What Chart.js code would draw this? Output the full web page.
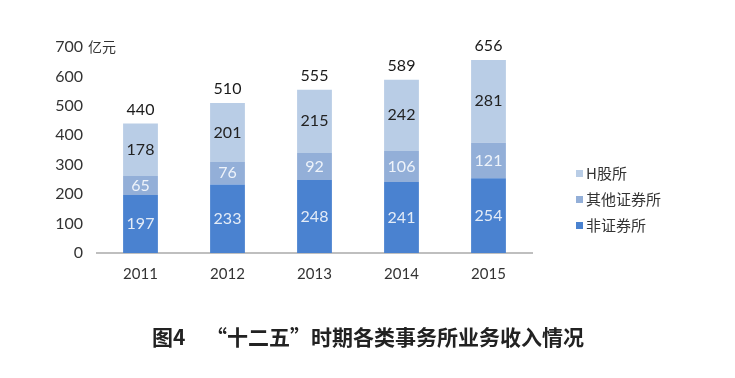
<!DOCTYPE html>
<html><head><meta charset="utf-8">
<script src="https://cdn.jsdelivr.net/npm/chart.js@4"></script>
<style>html,body{margin:0;padding:0;background:#fff}canvas{display:block}</style>
</head><body>
<canvas id="c" width="735" height="378"></canvas>
<script>
const categories = ['2011','2012','2013','2014','2015'];
const nonSecurities = [197,233,248,241,254];
const otherSecurities = [65,76,92,106,121];
const hShare = [178,201,215,242,281];
const totals = [440,510,555,589,656];
const seriesNames = ['非证券所','其他证券所','H股所'];
const yTicks = [0,100,200,300,400,500,600,700];
const unitLabel = '亿元';
const titleText = '“十二五”时期各类事务所业务收入情况';
const figLabel = '图4';

const colors = ['#4a82d0','#93afd8','#b9cde6'];
const labelColors = ['#e4ecf7','#eef3fa','#222222'];
const numFont = 'Lato, "Noto Sans", sans-serif';
const cjkFont = '"Noto Sans CJK SC", sans-serif';

const labelsPlugin = {
  id: 'labels',
  afterDatasetsDraw(chart) {
    const ctx = chart.ctx;
    ctx.save();
    ctx.textAlign = 'center';
    ctx.textBaseline = 'middle';
    ctx.font = '16px ' + numFont;
    chart.data.datasets.forEach((ds, di) => {
      const meta = chart.getDatasetMeta(di);
      meta.data.forEach((bar, i) => {
        ctx.fillStyle = labelColors[di];
        ctx.fillText(String(ds.data[i]), bar.x, (bar.y + bar.base) / 2);
      });
    });
    const top = chart.getDatasetMeta(2);
    top.data.forEach((bar, i) => {
      ctx.fillStyle = '#1a1a1a';
      ctx.fillText(String(totals[i]), bar.x, chart.scales.y.getPixelForValue(totals[i]) - 14);
    });
    // unit
    ctx.textAlign = 'left';
    ctx.font = '14px ' + cjkFont;
    ctx.fillStyle = '#333';
    ctx.fillText(unitLabel, 88, chart.scales.y.getPixelForValue(700));
    // legend
    const items = [2,1,0];
    items.forEach((di, k) => {
      const y = 173 + k * 26;
      ctx.fillStyle = colors[di];
      ctx.fillRect(576, y - 3, 7, 7);
      ctx.fillStyle = '#333';
      ctx.font = '15px ' + cjkFont;
      ctx.fillText(seriesNames[di], 586, y);
    });
    // title
    ctx.fillStyle = '#222';
    ctx.font = 'bold 21px ' + cjkFont;
    ctx.fillText(figLabel, 152, 337);
    ctx.fillText(titleText, 206, 337);
    ctx.restore();
  }
};

new Chart(document.getElementById('c'), {
  type: 'bar',
  data: {
    labels: categories,
    datasets: [
      {label: seriesNames[0], data: nonSecurities, backgroundColor: colors[0]},
      {label: seriesNames[1], data: otherSecurities, backgroundColor: colors[1]},
      {label: seriesNames[2], data: hShare, backgroundColor: colors[2]}
    ]
  },
  options: {
    responsive: false,
    animation: false,
    devicePixelRatio: 1,
    layout: {padding: {left: 0, right: 203, top: 47, bottom: 85}},
    plugins: {legend: {display: false}, tooltip: {enabled: false}},
    datasets: {bar: {categoryPercentage: 1, barPercentage: 0.4}},
    scales: {
      x: {
        stacked: true,
        grid: {display: false, drawTicks: false},
        border: {display: true, color: '#bfbfbf', width: 2},
        ticks: {color: '#333', font: {family: numFont, size: 15}, padding: 12},
        afterFit(s) { s.height = 40; }
      },
      y: {
        stacked: true,
        min: 0, max: 700,
        afterBuildTicks(s) { s.ticks = yTicks.map(v => ({value: v})); },
        grid: {display: false, drawTicks: false},
        border: {display: false},
        ticks: {color: '#333', font: {family: numFont, size: 16}, padding: 14},
        afterFit(s) { s.width = 97; }
      }
    }
  },
  plugins: [labelsPlugin]
});
</script>
</body></html>
